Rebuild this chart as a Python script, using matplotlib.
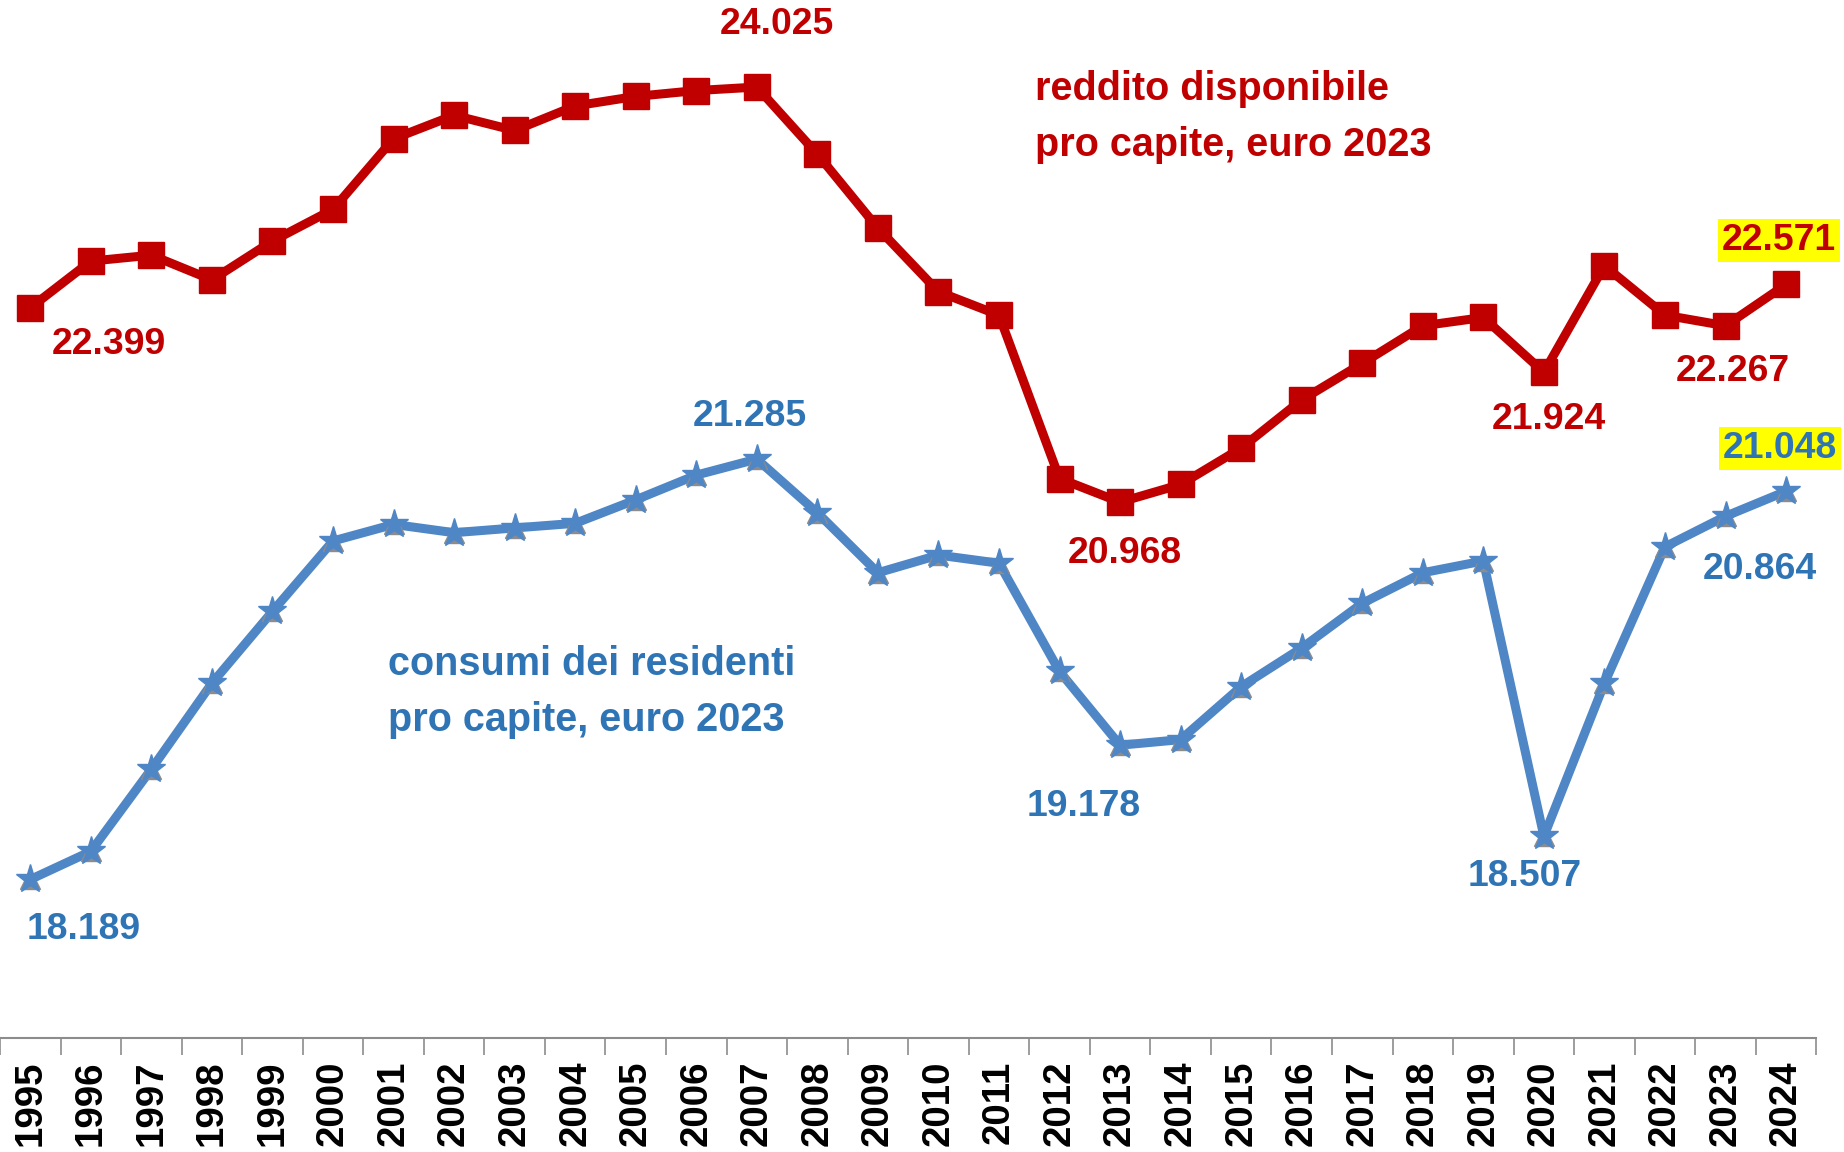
import matplotlib
matplotlib.use("Agg")
import matplotlib.pyplot as plt
from matplotlib import font_manager
import numpy as np

# Anni e serie (euro 2023 pro capite)
anni = list(range(1995, 2025))
reddito = [22399, 22743, 22787, 22605, 22891, 23124, 23644, 23817, 23705, 23886,
           23956, 23999, 24025, 23531, 22986, 22518, 22345, 21142, 20968, 21098,
           21366, 21721, 21990, 22267, 22328, 21924, 22709, 22345, 22267, 22571]
consumi = [18189, 18396, 19002, 19634, 20163, 20682, 20804, 20743, 20778, 20812,
           20985, 21167, 21285, 20890, 20448, 20578, 20518, 19721, 19178, 19219,
           19609, 19894, 20223, 20448, 20535, 18507, 19634, 20639, 20864, 21048]

# etichette: (indice anno, offset in pixel, evidenziata)
lab_reddito = [(0, (79, -37), False), (12, (20, 63), False), (18, (5, -51), False),
               (25, (5, -47), False), (28, (7, -46), False), (29, (-7, 44), True)]
lab_consumi = [(0, (53, -50), False), (12, (-7, 43), False), (18, (-36, -61), False),
               (25, (-19, -40), False), (28, (34, -53), False), (29, (-6, 43), True)]

RED = "#C00000"
BLUE_LINE = "#4F86C6"
BLUE_TXT = "#2F75B5"

names = {f.name for f in font_manager.fontManager.ttflist}
if "Liberation Sans Narrow" in names:
    FONT, k = "Liberation Sans Narrow", 1.0
else:
    FONT, k = "Liberation Sans", 0.84
plt.rcParams["font.family"] = FONT


def fmt(v):
    return f"{v:,}".replace(",", ".")


fig = plt.figure(figsize=(18.44, 11.52), dpi=100)
ax = fig.add_axes([0.0, 0.099, 0.985, 0.901])
x = np.arange(len(anni))

ax.plot(x, reddito, color=RED, lw=6.5, marker="s", ms=19, mfc=RED, mec=RED, zorder=3)
ax.plot(x, consumi, color=BLUE_LINE, lw=6.5, zorder=3)
ax.plot(x, consumi, ls="none", marker="^", ms=15, color="#8C8C8C", zorder=4)
ax.plot(x, consumi, ls="none", marker="*", ms=21, color=BLUE_LINE, zorder=5)

for serie, labs, col in [(reddito, lab_reddito, RED), (consumi, lab_consumi, BLUE_TXT)]:
    for i, off, hl in labs:
        bbox = dict(facecolor="#FFFF00", edgecolor="none", pad=3) if hl else None
        ax.annotate(fmt(serie[i]), xy=(i, serie[i]), xytext=off,
                    textcoords="offset pixels", ha="center", va="center",
                    fontsize=32 * k, fontweight="bold", color=col, bbox=bbox,
                    zorder=6)

fig.text(1035 / 1844, 1 - 117 / 1152, "reddito disponibile\npro capite, euro 2023",
         color=RED, fontsize=34 * k, fontweight="bold", ha="left", va="center",
         linespacing=1.6)
fig.text(388 / 1844, 1 - 692 / 1152, "consumi dei residenti\npro capite, euro 2023",
         color=BLUE_TXT, fontsize=34 * k, fontweight="bold", ha="left", va="center",
         linespacing=1.6)

ax.set_xlim(-0.5, len(anni) - 0.5)
ax.set_ylim(17022, 24666)
ax.set_yticks([])
ax.set_xticks(x)
ax.set_xticklabels([str(a) for a in anni], rotation=90, fontsize=33 * k,
                   fontweight="bold")
ax.set_xticks(np.arange(-0.5, len(anni)), minor=True)
ax.tick_params(axis="x", which="major", length=0, pad=16)
ax.tick_params(axis="x", which="minor", length=12, width=1.2, color="#8C8C8C")
for s in ["top", "right", "left"]:
    ax.spines[s].set_visible(False)
ax.spines["bottom"].set_color("#8C8C8C")
ax.spines["bottom"].set_linewidth(1.5)

fig.savefig("out.png", dpi=100, facecolor="white")
